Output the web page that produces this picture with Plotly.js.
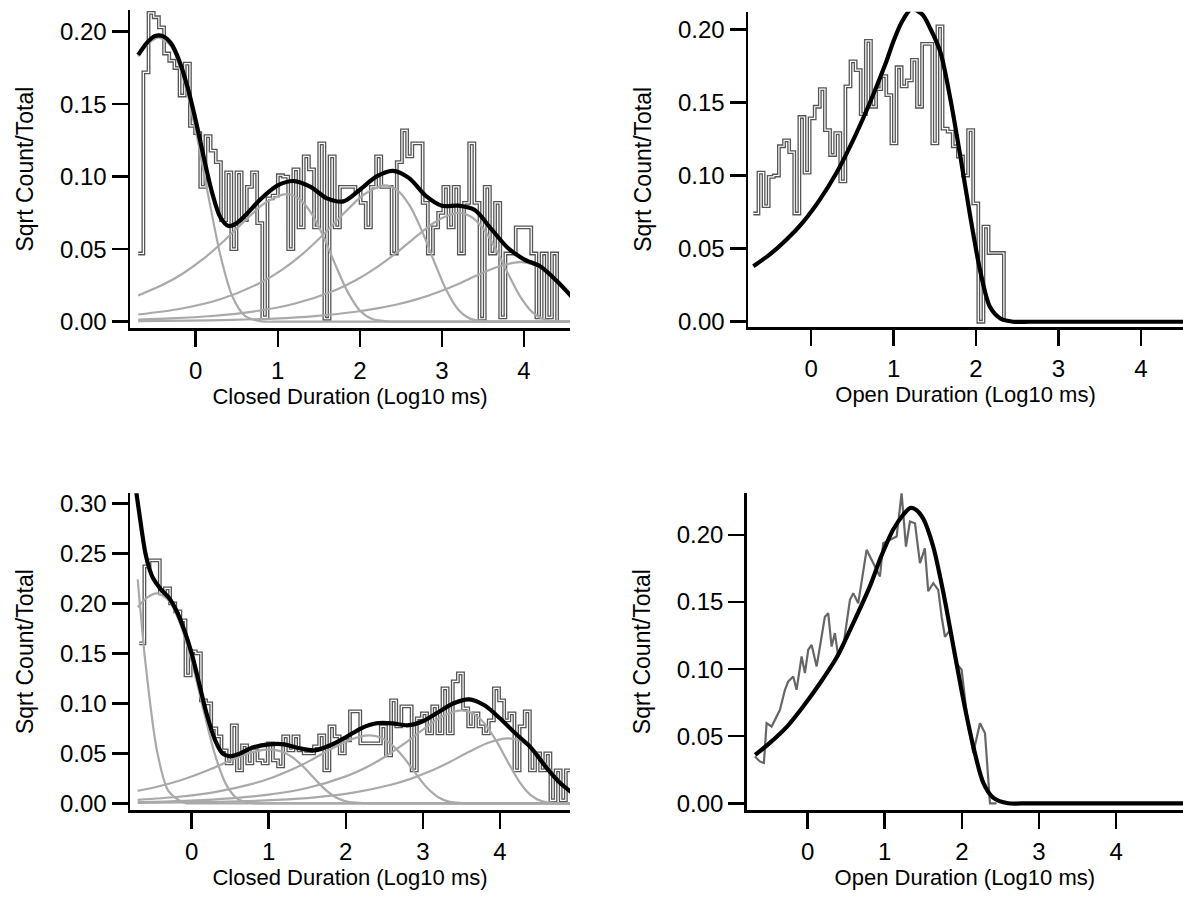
<!DOCTYPE html>
<html><head><meta charset="utf-8">
<script src="https://cdn.plot.ly/plotly-3.0.1.min.js"></script>
<style>html,body{margin:0;padding:0;background:#fff;}#chart{width:1183px;height:898px;}</style>
</head><body><div id="chart"></div>
<script>
// ---------- Top-left: Closed duration ----------
const tlBinStart = -0.70, tlBinWidth = 0.063;
const tlHist = [.047,.172,.213,.210,.203,.185,.180,.175,.156,.178,.135,.130,.093,.128,.118,.110,.070,.103,.050,.103,
 .070,.093,.103,.068,.003,.085,.087,.101,.100,.050,.105,.065,.114,.105,.065,.123,.002,.114,.065,.093,
 .093,.093,.090,.082,.065,.093,.114,.093,.093,.047,.110,.132,.114,.123,.123,.082,.047,.065,.075,.093,
 .065,.093,.047,.082,.123,.082,.002,.093,.047,.082,.003,.047,.047,.065,.065,.065,.047,.003,.047,.003,.047];
const tlFitX = [-0.70,-0.60,-0.50,-0.40,-0.30,-0.20,-0.10,0.00,0.10,0.20,0.30,0.40,0.50,0.60,0.80,1.00,1.20,1.40,1.60,1.80,2.00,2.20,2.40,2.60,2.80,3.00,3.20,3.40,3.60,3.80,4.00,4.20,4.40,4.60];
const tlFitY = [.184,.192,.197,.197,.192,.180,.162,.139,.113,.089,.072,.066,.068,.073,.085,.094,.097,.093,.085,.083,.091,.100,.104,.099,.087,.080,.080,.077,.064,.051,.043,.038,.028,.016];
const tlC1X = [-0.70,-0.575,-0.45,-0.30,-0.15,0.00,0.15,0.30,0.45,0.60,0.80,1.05,4.60];
const tlC1Y = [.183,.192,.196,.190,.168,.132,.088,.046,.017,.004,.0002,0,0];
const tlC2X = [-0.70,-0.40,-0.15,0.10,0.35,0.60,0.85,1.10,1.25,1.40,1.55,1.70,1.85,2.00,2.15,2.35,2.60,4.60];
const tlC2Y = [.0181,.0254,.0334,.0436,.056,.0697,.0821,.088,.0851,.0756,.0595,.0395,.0207,.0077,.0018,.0001,0,0];
const tlC3X = [-0.70,-0.20,0.30,0.80,1.05,1.30,1.55,1.80,2.05,2.30,2.45,2.60,2.75,2.90,3.05,3.20,3.35,3.55,3.80,4.60];
const tlC3Y = [.0049,.0087,.0154,.0272,.0357,.0466,.0598,.0744,.0877,.094,.0909,.0807,.0635,.0422,.0221,.0082,.0019,.0001,0,0];
const tlC4X = [-0.70,-0.30,0.20,0.70,1.20,1.70,1.95,2.20,2.45,2.70,2.95,3.20,3.35,3.50,3.65,3.80,3.95,4.10,4.25,4.45,4.60];
const tlC4Y = [.0014,.0022,.0039,.0069,.0123,.0217,.0285,.0372,.0477,.0594,.070,.075,.0725,.0644,.0507,.0337,.0176,.0066,.0015,.0001,0];
const tlC5X = [-0.70,-0.05,0.45,0.95,1.45,1.95,2.45,2.70,2.95,3.20,3.45,3.70,3.95,4.10,4.25,4.40,4.55,4.60];
const tlC5Y = [.0003,.0007,.0012,.0021,.0038,.0068,.0118,.0155,.0203,.026,.0325,.0382,.041,.0396,.0352,.0277,.0184,.0152];

// ---------- Top-right: Open duration ----------
const trBinStart = -0.70, trBinWidth = 0.062;
const trHist = [.074,.102,.079,.099,.100,.120,.124,.116,.074,.140,.102,.139,.147,.159,.131,.114,.129,.096,.161,.178,
 .172,.142,.192,.147,.159,.168,.155,.122,.174,.161,.165,.179,.147,.190,.190,.122,.202,.132,.130,.120,
 .113,.100,.131,.081,0,.065,.047,.047,.047];
const trFitX = [-0.70,-0.50,-0.30,-0.10,0.10,0.30,0.50,0.70,0.90,1.00,1.10,1.22,1.35,1.45,1.57,1.69,1.81,1.93,2.05,2.17,2.30,2.45,2.65,2.90,3.20,3.60,4.00,4.60];
const trFitY = [.038,.046,.056,.068,.083,.101,.123,.148,.176,.192,.205,.214,.210,.200,.184,.152,.113,.072,.035,.010,.002,0,0,0,0,0,0,0];

// ---------- Bottom-left: Closed duration ----------
const blBinStart = -0.68, blBinWidth = 0.0667;
const blHist = [.160,.237,.243,.243,.210,.215,.200,.192,.183,.128,.152,.150,.103,.100,.075,.067,.053,.040,.078,.033,
 .058,.040,.053,.043,.040,.060,.043,.037,.067,.053,.067,.053,.050,.050,.057,.068,.033,.077,.067,.050,
 .063,.092,.092,.060,.060,.060,.060,.077,.048,.103,.077,.097,.097,.033,.085,.090,.070,.097,.070,.115,
 .070,.122,.130,.095,.077,.090,.077,.070,.083,.115,.103,.083,.090,.033,.077,.092,.033,.050,.033,.050,
 .003,.033,.003,.033];
const blFitX = [-0.72,-0.65,-0.60,-0.55,-0.50,-0.40,-0.30,-0.20,-0.10,0.00,0.10,0.20,0.30,0.40,0.50,0.60,0.80,1.00,1.20,1.40,1.60,1.80,2.00,2.20,2.40,2.60,2.80,3.00,3.20,3.40,3.60,3.80,4.00,4.20,4.40,4.60,4.80,5.00];
const blFitY = [.312,.274,.250,.235,.225,.214,.206,.193,.174,.150,.119,.088,.064,.050,.047,.049,.056,.059,.059,.055,.053,.058,.066,.075,.080,.080,.078,.082,.091,.100,.104,.098,.085,.070,.056,.036,.019,.007];
const blF1X = [-0.70,-0.60,-0.45,-0.30,-0.10,0.15,5.00];
const blF1Y = [.224,.141,.0526,.0121,.0006,0,0];
const blC2X = [-0.70,-0.575,-0.45,-0.30,-0.15,0.00,0.15,0.30,0.45,0.60,0.80,1.05,5.00];
const blC2Y = [.196,.206,.210,.203,.180,.142,.0943,.0494,.0184,.0042,.0002,0,0];
const blC3X = [-0.70,-0.50,-0.25,0.00,0.25,0.50,0.75,1.00,1.15,1.30,1.45,1.60,1.75,1.90,2.05,2.25,2.50,5.00];
const blC3Y = [.0125,.0156,.0205,.0268,.0343,.0428,.0504,.054,.0522,.0464,.0365,.0242,.0127,.0047,.0011,.0001,0,0];
const blC4X = [-0.70,-0.20,0.30,0.80,1.05,1.30,1.55,1.80,2.05,2.30,2.45,2.60,2.75,2.90,3.05,3.20,3.35,3.55,3.80,5.00];
const blC4Y = [.0035,.0063,.0112,.0197,.0258,.0337,.0432,.0539,.0634,.068,.0658,.0584,.046,.0305,.016,.006,.0014,.0001,0,0];
const blC5X = [-0.70,-0.50,0.00,0.50,1.00,1.50,2.00,2.25,2.50,2.75,3.00,3.25,3.50,3.65,3.80,3.95,4.10,4.25,4.40,4.55,4.75,5.00];
const blC5Y = [.0012,.0015,.0027,.0049,.0086,.0153,.0269,.0353,.0461,.0591,.0737,.0868,.093,.0899,.0799,.0629,.0418,.0219,.0081,.0019,.0001,0];
const blC6X = [-0.70,-0.40,0.10,0.60,1.10,1.60,2.10,2.60,2.85,3.10,3.35,3.60,3.85,4.10,4.25,4.40,4.55,4.70,4.85,5.00];
const blC6Y = [.0004,.0006,.0011,.0019,.0034,.006,.0107,.0188,.0247,.0322,.0413,.0515,.0606,.065,.0629,.0558,.0439,.0292,.0153,.0057];

// ---------- Bottom-right: Open duration ----------
const brDataX = [-0.684,-0.619,-0.567,-0.532,-0.467,-0.424,-0.359,-0.294,-0.251,-0.187,-0.143,-0.078,-0.035,0.008,0.052,0.117,0.160,0.224,0.267,0.311,
 0.354,0.397,0.462,0.549,0.592,0.656,0.765,0.830,0.895,0.938,0.980,1.067,1.154,1.219,1.275,1.327,1.392,1.457,1.520,1.564,
 1.629,1.694,1.738,1.781,1.846,1.932,1.997,2.062,2.148,2.235,2.300,2.365,2.450];
const brDataY = [.0349,.0312,.030,.0597,.0572,.0622,.0697,.0846,.0908,.0945,.0846,.1094,.097,.1144,.118,.102,.1168,.139,.1417,.1168,
 .1268,.1094,.1168,.1516,.1566,.149,.1889,.1814,.174,.169,.1938,.1963,.1988,.2311,.1913,.210,.2087,.179,.190,.158,
 .164,.159,.139,.124,.129,.104,.0995,.0672,.0374,.0597,.0523,0,0];
const brFitX = [-0.68,-0.49,-0.27,-0.06,0.16,0.38,0.59,0.81,0.94,1.02,1.11,1.24,1.33,1.40,1.50,1.63,1.76,1.89,2.02,2.15,2.28,2.41,2.60,2.85,3.20,3.60,4.00,4.50,4.90];
const brFitY = [.036,.045,.057,.072,.0895,.109,.134,.162,.182,.193,.204,.215,.220,.219,.212,.191,.157,.117,.077,.042,.015,.004,0,0,0,0,0,0,0];

// ---------- tick / title text ----------
const xTicks = [0,1,2,3,4];
const closedTitle = 'Closed Duration (Log10 ms)';
const openTitle = 'Open Duration (Log10 ms)';
const yTitle = 'Sqrt Count/Total';

// ---------- helpers ----------
function stepXY(start, width, vals, drop) {
  const x = [], y = [];
  vals.forEach((v, i) => { x.push(start + i * width); y.push(v); });
  const end = start + vals.length * width;
  x.push(end); y.push(vals[vals.length - 1]);
  if (drop) { x.push(end); y.push(0); }
  return {x, y};
}
const HIST = '#555555', COMP = '#a9a9a9';
function histTraces(xa, ya, s) {
  return [
    {type:'scatter', mode:'lines', x:s.x, y:s.y, xaxis:xa, yaxis:ya, line:{shape:'hv', color:HIST, width:3.8}, hoverinfo:'skip'},
    {type:'scatter', mode:'lines', x:s.x, y:s.y, xaxis:xa, yaxis:ya, line:{shape:'hv', color:'#ffffff', width:1.2}, hoverinfo:'skip'}
  ];
}
function comp(xa, ya, x, y) {
  return {type:'scatter', mode:'lines', x, y, xaxis:xa, yaxis:ya, line:{shape:'spline', smoothing:0.8, color:COMP, width:2.2}, hoverinfo:'skip'};
}
function fit(xa, ya, x, y) {
  return {type:'scatter', mode:'lines', x, y, xaxis:xa, yaxis:ya, line:{shape:'spline', smoothing:0.8, color:'#000', width:4.2}, hoverinfo:'skip'};
}

const traces = [];
traces.push(...histTraces('x', 'y', stepXY(tlBinStart, tlBinWidth, tlHist, true)));
[[tlC1X,tlC1Y],[tlC2X,tlC2Y],[tlC3X,tlC3Y],[tlC4X,tlC4Y],[tlC5X,tlC5Y]].forEach(c => traces.push(comp('x','y',c[0],c[1])));
traces.push(fit('x','y',tlFitX,tlFitY));

traces.push(...histTraces('x2', 'y2', stepXY(trBinStart, trBinWidth, trHist, true)));
traces.push(fit('x2','y2',trFitX,trFitY));

traces.push(...histTraces('x3', 'y3', stepXY(blBinStart, blBinWidth, blHist, false)));
[[blF1X,blF1Y],[blC2X,blC2Y],[blC3X,blC3Y],[blC4X,blC4Y],[blC5X,blC5Y],[blC6X,blC6Y]].forEach(c => traces.push(comp('x3','y3',c[0],c[1])));
traces.push(fit('x3','y3',blFitX,blFitY));

traces.push({type:'scatter', mode:'lines', x:brDataX, y:brDataY, xaxis:'x4', yaxis:'y4', line:{color:'#666666', width:2.2}, hoverinfo:'skip'});
traces.push(fit('x4','y4',brFitX,brFitY));

const FONT = 'Liberation Sans, Arial, Helvetica, sans-serif';
function xAxis(dom, range, anchor, title) {
  return {domain:dom, range, anchor, showline:true, linecolor:'#000', linewidth:2.5, ticks:'outside', ticklen:16, tickwidth:2.5, tickcolor:'#000',
    tickvals:xTicks, ticktext:xTicks.map(String), ticklabelstandoff:3, showgrid:false, zeroline:false, automargin:false, fixedrange:true,
    tickfont:{family:FONT, size:24, color:'#000'}, title:{text:title, font:{family:FONT, size:22, color:'#000'}, standoff:4}};
}
function yAxis(dom, range, anchor) {
  return {domain:dom, range, anchor, showline:true, linecolor:'#000', linewidth:2.5, ticks:'outside', ticklen:16, tickwidth:2.5, tickcolor:'#000',
    dtick:0.05, tick0:0, tickformat:'.2f', showgrid:false, zeroline:false, automargin:false, fixedrange:true,
    tickfont:{family:FONT, size:24, color:'#000'}, title:{text:yTitle, font:{family:FONT, size:23, color:'#000'}, standoff:20}};
}

const W = 1183, H = 898;
const layout = {
  width:W, height:H, margin:{l:0,r:0,t:0,b:0}, showlegend:false,
  paper_bgcolor:'#fff', plot_bgcolor:'#fff',
  xaxis: xAxis([130/W, 570/W], [-0.80, 4.56], 'y', closedTitle),
  yaxis: yAxis([1-328.3/H, 1-10/H], [-0.0046, 0.215], 'x'),
  xaxis2: xAxis([748/W, 1], [-0.765, 4.51], 'y2', openTitle),
  yaxis2: yAxis([1-327/H, 1-11.7/H], [-0.0036, 0.212], 'x2'),
  xaxis3: xAxis([130/W, 570/W], [-0.80, 4.91], 'y3', closedTitle),
  yaxis3: yAxis([1-810/H, 1-493.3/H], [-0.0067, 0.31], 'x3'),
  xaxis4: xAxis([746.7/W, 1], [-0.79, 4.868], 'y4', openTitle),
  yaxis4: yAxis([1-810/H, 1-493.3/H], [-0.005, 0.231], 'x4')
};
Plotly.newPlot('chart', traces, layout, {displayModeBar:false, staticPlot:true});
</script></body></html>
